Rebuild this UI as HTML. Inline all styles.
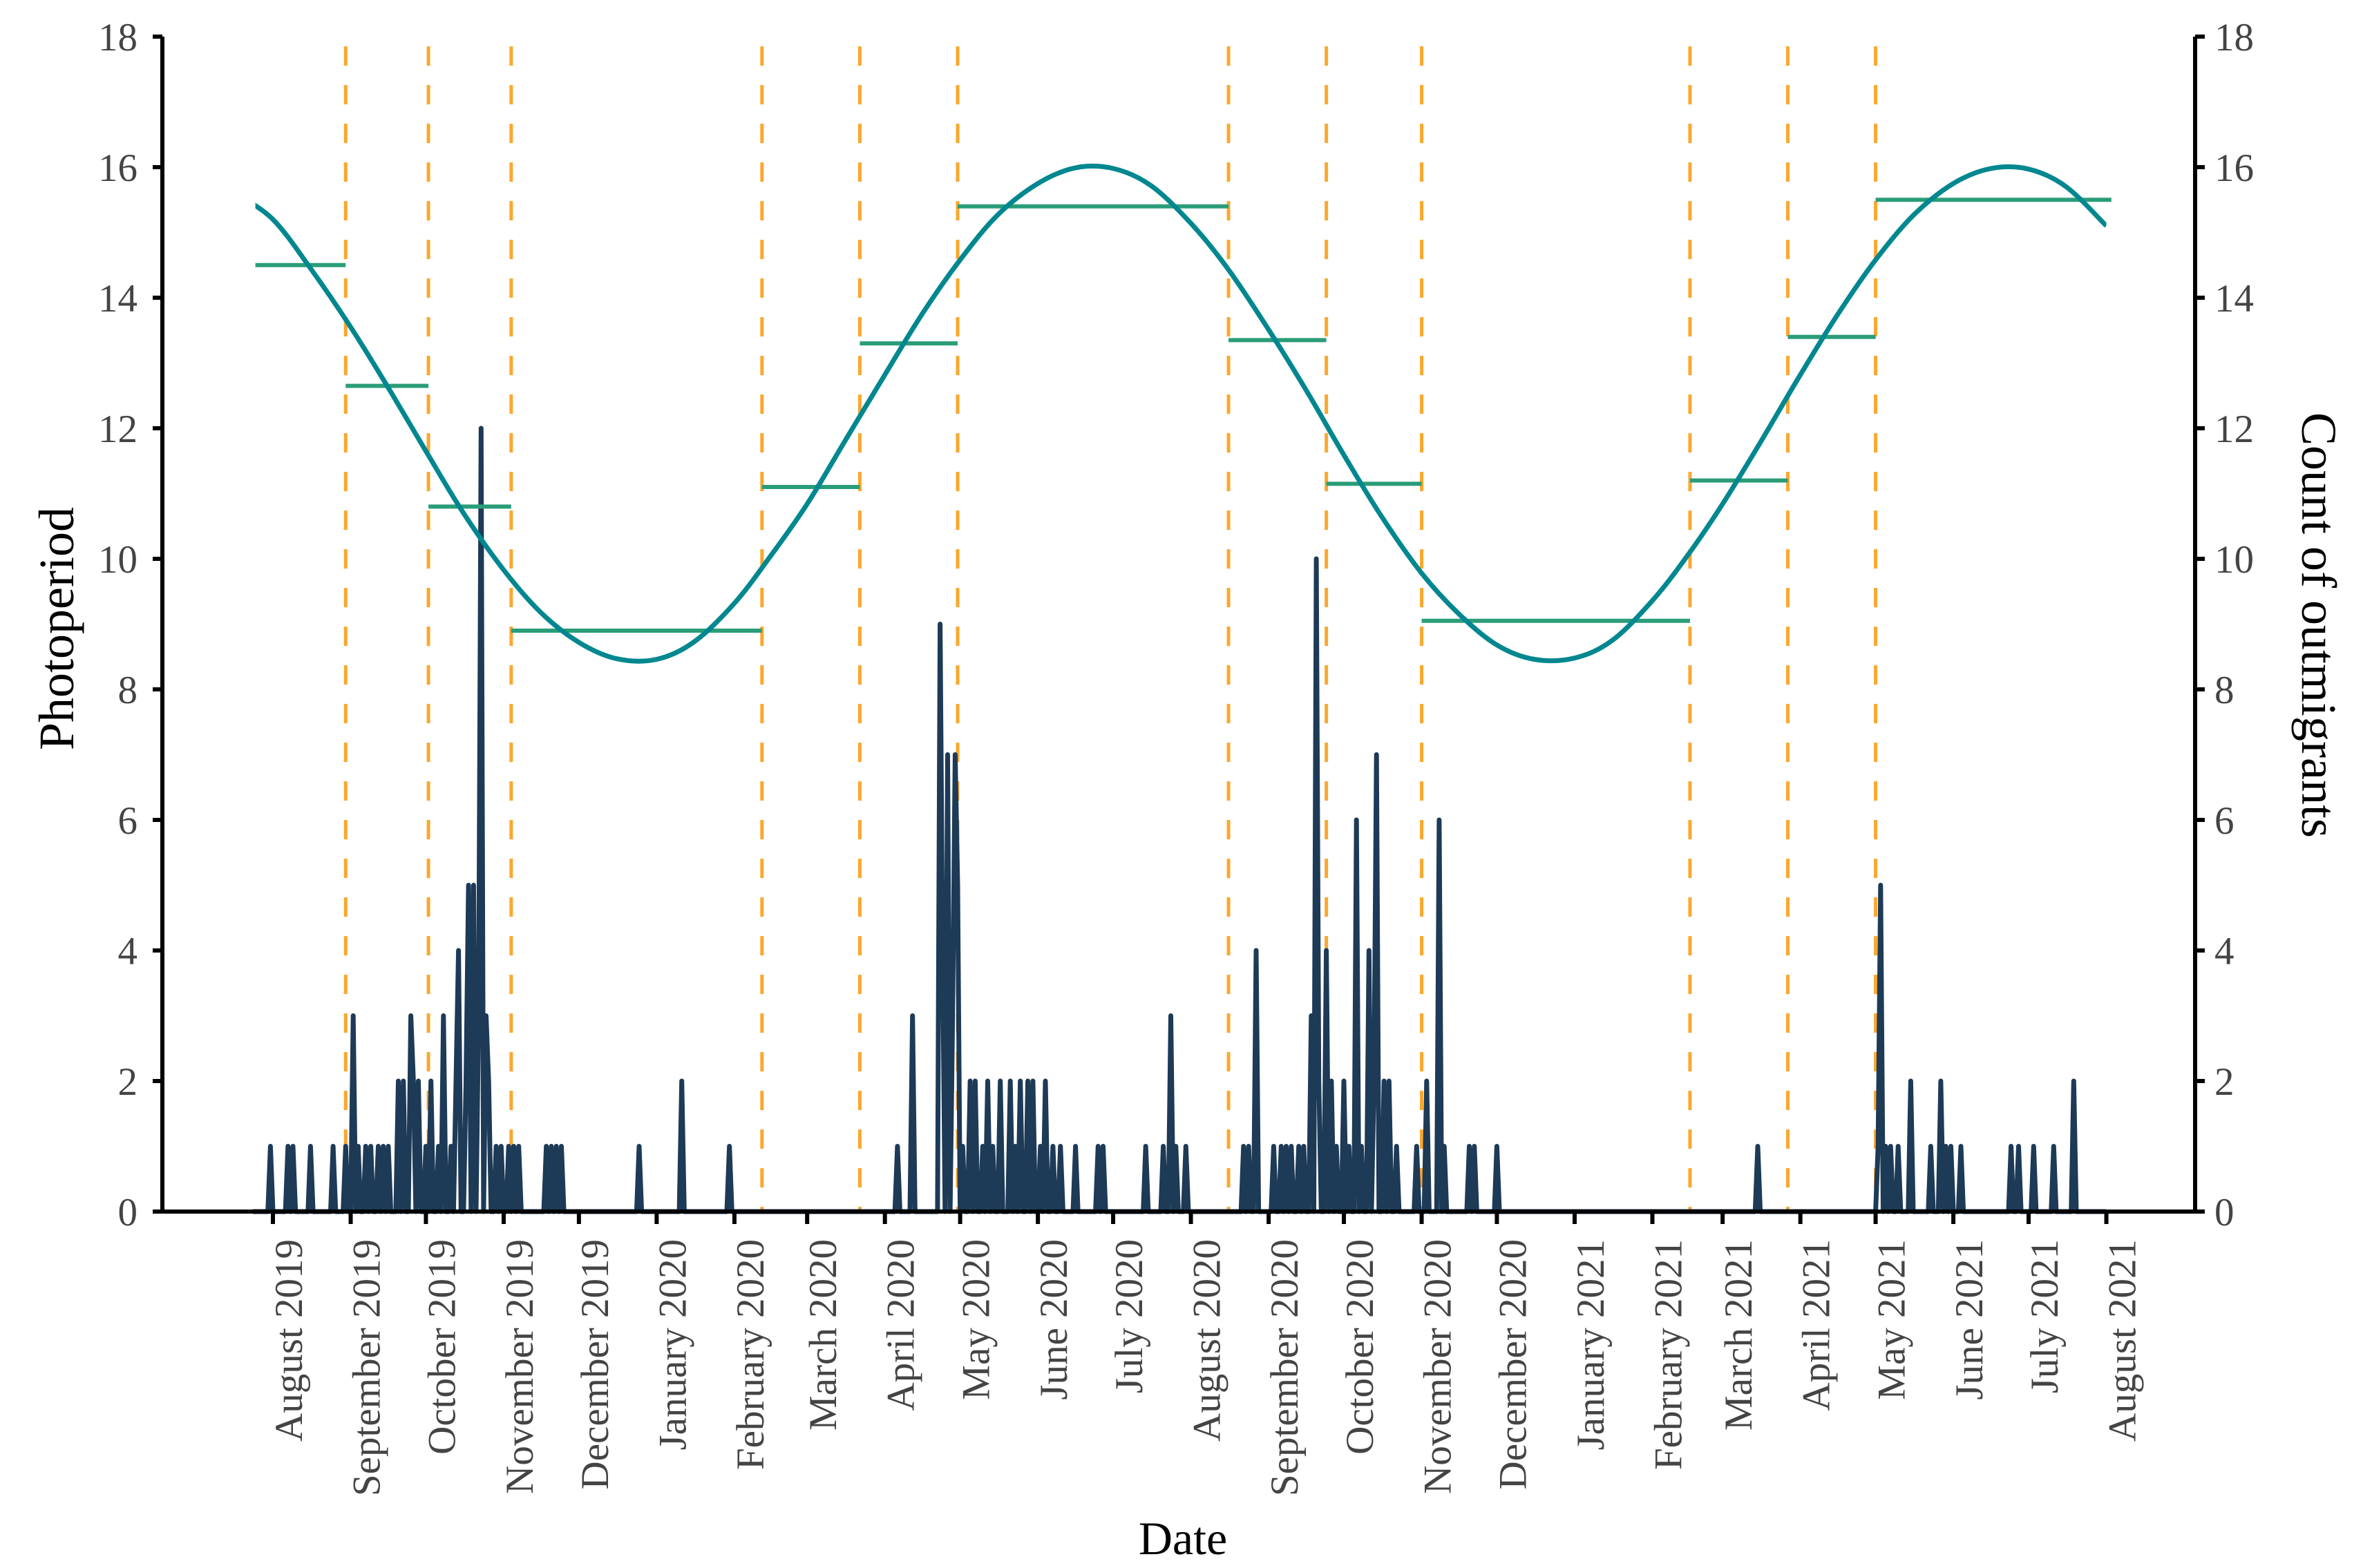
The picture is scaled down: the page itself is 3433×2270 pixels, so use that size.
<!DOCTYPE html>
<html><head><meta charset="utf-8"><style>
html,body{margin:0;padding:0;background:#fff;}
svg{display:block;font-family:"Liberation Serif",serif;}
</style></head><body>
<svg id="chart" width="3433" height="2270" viewBox="0 0 3433 2270" xmlns="http://www.w3.org/2000/svg">
<rect width="3433" height="2270" fill="#fff"/>
<g id="grid"></g>
<g id="series"></g>
<g id="axes"></g>
<text x="0" y="0" transform="translate(106,910) rotate(-90)" text-anchor="middle" font-size="72" fill="#000">Photoperiod</text>
<text x="0" y="0" transform="translate(3332,905) rotate(90)" text-anchor="middle" font-size="72" fill="#000">Count of outmigrants</text>
<text x="1712" y="2250" text-anchor="middle" font-size="68" fill="#000">Date</text>
</svg>
<script>
// ---- data ----
const monthLabels = ["August 2019","September 2019","October 2019","November 2019","December 2019","January 2020","February 2020","March 2020","April 2020","May 2020","June 2020","July 2020","August 2020","September 2020","October 2020","November 2020","December 2020","January 2021","February 2021","March 2021","April 2021","May 2021","June 2021","July 2021","August 2021"];
const monthDays = [0,31,61,92,122,153,184,213,244,274,305,335,366,397,427,458,488,519,550,578,609,639,670,700,731];
const yTicks = [0,2,4,6,8,10,12,14,16,18];
const breakDays = [29,62,95,195,234,273,381,420,458,565,604,639];
const stepStart = [-7,29,62,95,195,234,273,381,420,458,565,604,639];
const stepEnd = [29,62,95,195,234,273,381,420,458,565,604,639,733];
const stepValue = [14.5,12.65,10.8,8.9,11.1,13.3,15.4,13.35,11.15,9.05,11.2,13.4,15.5];
const photoDays = [-15,0,15,31,46,61,76,92,107,122,137,153,168,184,198,213,228,244,259,274,289,305,320,335,350,366,381,397,412,427,442,458,473,488,503,519,534,550,564,578,593,609,624,639,654,670,685,700,715,731];
const photoValues = [15.6,15.2,14.45,13.55,12.62,11.65,10.7,9.83,9.17,8.72,8.47,8.46,8.73,9.32,10.02,10.84,11.8,12.82,13.76,14.58,15.27,15.75,15.99,15.98,15.72,15.14,14.43,13.51,12.58,11.59,10.65,9.78,9.15,8.68,8.46,8.48,8.75,9.36,10.05,10.84,11.78,12.82,13.75,14.58,15.26,15.75,15.98,15.97,15.7,15.1];
const countDays = [-1,6,8,15,24,29,32,34,37,39,42,44,46,50,52,55,56,58,61,63,66,68,71,73,74,77,78,80,82,83,85,86,89,91,94,96,98,109,111,113,115,146,163,182,
249,255,266,267,269,271,272,273,275,278,280,283,285,287,290,294,296,298,301,303,306,308,311,314,320,329,331,348,355,358,360,364,387,389,392,399,402,404,406,409,411,414,416,417,420,422,424,427,429,432,434,437,439,440,443,445,448,456,460,465,467,477,479,488,
592,640,641,643,645,648,653,661,665,667,669,673,693,696,702,710,718];
const countValues = [1,1,1,1,1,1,3,1,1,1,1,1,1,2,2,3,2,2,1,2,1,3,1,2,4,2,5,5,3,12,3,2,1,1,1,1,1,1,1,1,1,1,2,1,
1,3,9,4,7,3,7,5,1,2,2,1,2,1,2,2,1,2,2,2,1,2,1,1,1,1,1,1,1,3,1,1,1,1,4,1,1,1,1,1,1,3,10,2,4,2,1,2,1,6,1,4,2,7,2,2,1,1,2,6,1,1,1,1,
1,1,5,1,1,1,2,1,2,1,1,1,1,1,1,1,2];

// ---- scales ----
const X0 = 395, PXD = 3.63;
const xS = d => X0 + d * PXD;
const Y0 = 1754, PXU = 94.5;
const yS = v => Y0 - v * PXU;
const LEFT = 235, RIGHT = 3177, TOP = yS(18);
const NS = "http://www.w3.org/2000/svg";
function mk(tag, attrs, parent){const e=document.createElementNS(NS,tag);for(const k in attrs)e.setAttribute(k,attrs[k]);parent.appendChild(e);return e;}
const grid=document.getElementById('grid'), series=document.getElementById('series'), axes=document.getElementById('axes');

breakDays.forEach((d,i)=>{
  const l=mk('line',{x1:xS(d),x2:xS(d),y1:yS(17.85),y2:Y0,stroke:'#fba72e','stroke-width':5,'stroke-dasharray':'28 28'},grid);
  
  
});

{
  const map={}; countDays.forEach((d,i)=>map[d]=countValues[i]);
  let p='';
  for(let d=-8; d<=731; d++){const v=map[d]||0; p+=(p?'L':'M')+xS(d).toFixed(1)+','+yS(v).toFixed(1);}
  const e=mk('path',{d:p,fill:'none',stroke:'#1d3a57','stroke-width':7,'stroke-linejoin':'round'},series);
  
  
}
stepValue.forEach((v,i)=>{
  const e=mk('line',{x1:xS(stepStart[i]),x2:xS(stepEnd[i]),y1:yS(v),y2:yS(v),stroke:'#2a9d78','stroke-width':6},series);
  
  
});
{
  const pts=photoDays.map((d,i)=>[xS(d),yS(photoValues[i])]).filter(p=>p[0]>=xS(-7)-30);
  let p='M'+pts[0][0]+','+pts[0][1];
  for(let i=0;i<pts.length-1;i++){
    const p0=pts[Math.max(0,i-1)],p1=pts[i],p2=pts[i+1],p3=pts[Math.min(pts.length-1,i+2)];
    const c1=[p1[0]+(p2[0]-p0[0])/6,p1[1]+(p2[1]-p0[1])/6];
    const c2=[p2[0]-(p3[0]-p1[0])/6,p2[1]-(p3[1]-p1[1])/6];
    p+=`C${c1[0].toFixed(1)},${c1[1].toFixed(1)} ${c2[0].toFixed(1)},${c2[1].toFixed(1)} ${p2[0].toFixed(1)},${p2[1].toFixed(1)}`;
  }
  const cp=mk('clipPath',{id:'curveClip'},series);
  mk('rect',{x:xS(-7),y:0,width:xS(731)-xS(-7),height:2270},cp);
  const e=mk('path',{d:p,fill:'none',stroke:'#00878f','stroke-width':7,'clip-path':'url(#curveClip)'},series);
  
  
}

{
  let e=mk('line',{x1:LEFT,x2:LEFT,y1:TOP,y2:Y0+3,stroke:'#000','stroke-width':6},axes);
   
  e=mk('line',{x1:RIGHT,x2:RIGHT,y1:TOP,y2:Y0+3,stroke:'#000','stroke-width':6},axes);
   
  e=mk('line',{x1:LEFT-14,x2:RIGHT+3,y1:Y0,y2:Y0,stroke:'#000','stroke-width':6},axes);
   
}
yTicks.forEach(v=>{
  let t=mk('line',{x1:LEFT-14,x2:LEFT,y1:yS(v),y2:yS(v),stroke:'#000','stroke-width':6},axes);
   
  let l=mk('text',{x:LEFT-36,y:yS(v)+20,'text-anchor':'end','font-size':57,fill:'#444'},axes);
  l.textContent=v;
   
  t=mk('line',{x1:RIGHT,x2:RIGHT+14,y1:yS(v),y2:yS(v),stroke:'#000','stroke-width':6},axes);
   
  l=mk('text',{x:RIGHT+28,y:yS(v)+20,'text-anchor':'start','font-size':57,fill:'#444'},axes);
  l.textContent=v;
   
});
monthDays.forEach((d,i)=>{
  const x=xS(d);
  const t=mk('line',{x1:x,x2:x,y1:Y0,y2:Y0+18,stroke:'#000','stroke-width':6},axes);
   
  const l=mk('text',{x:0,y:0,transform:`translate(${x+42},${Y0+40}) rotate(-90)`,'text-anchor':'end','font-size':57,fill:'#444'},axes);
  l.textContent=monthLabels[i];
   
});
</script>
</body></html>
